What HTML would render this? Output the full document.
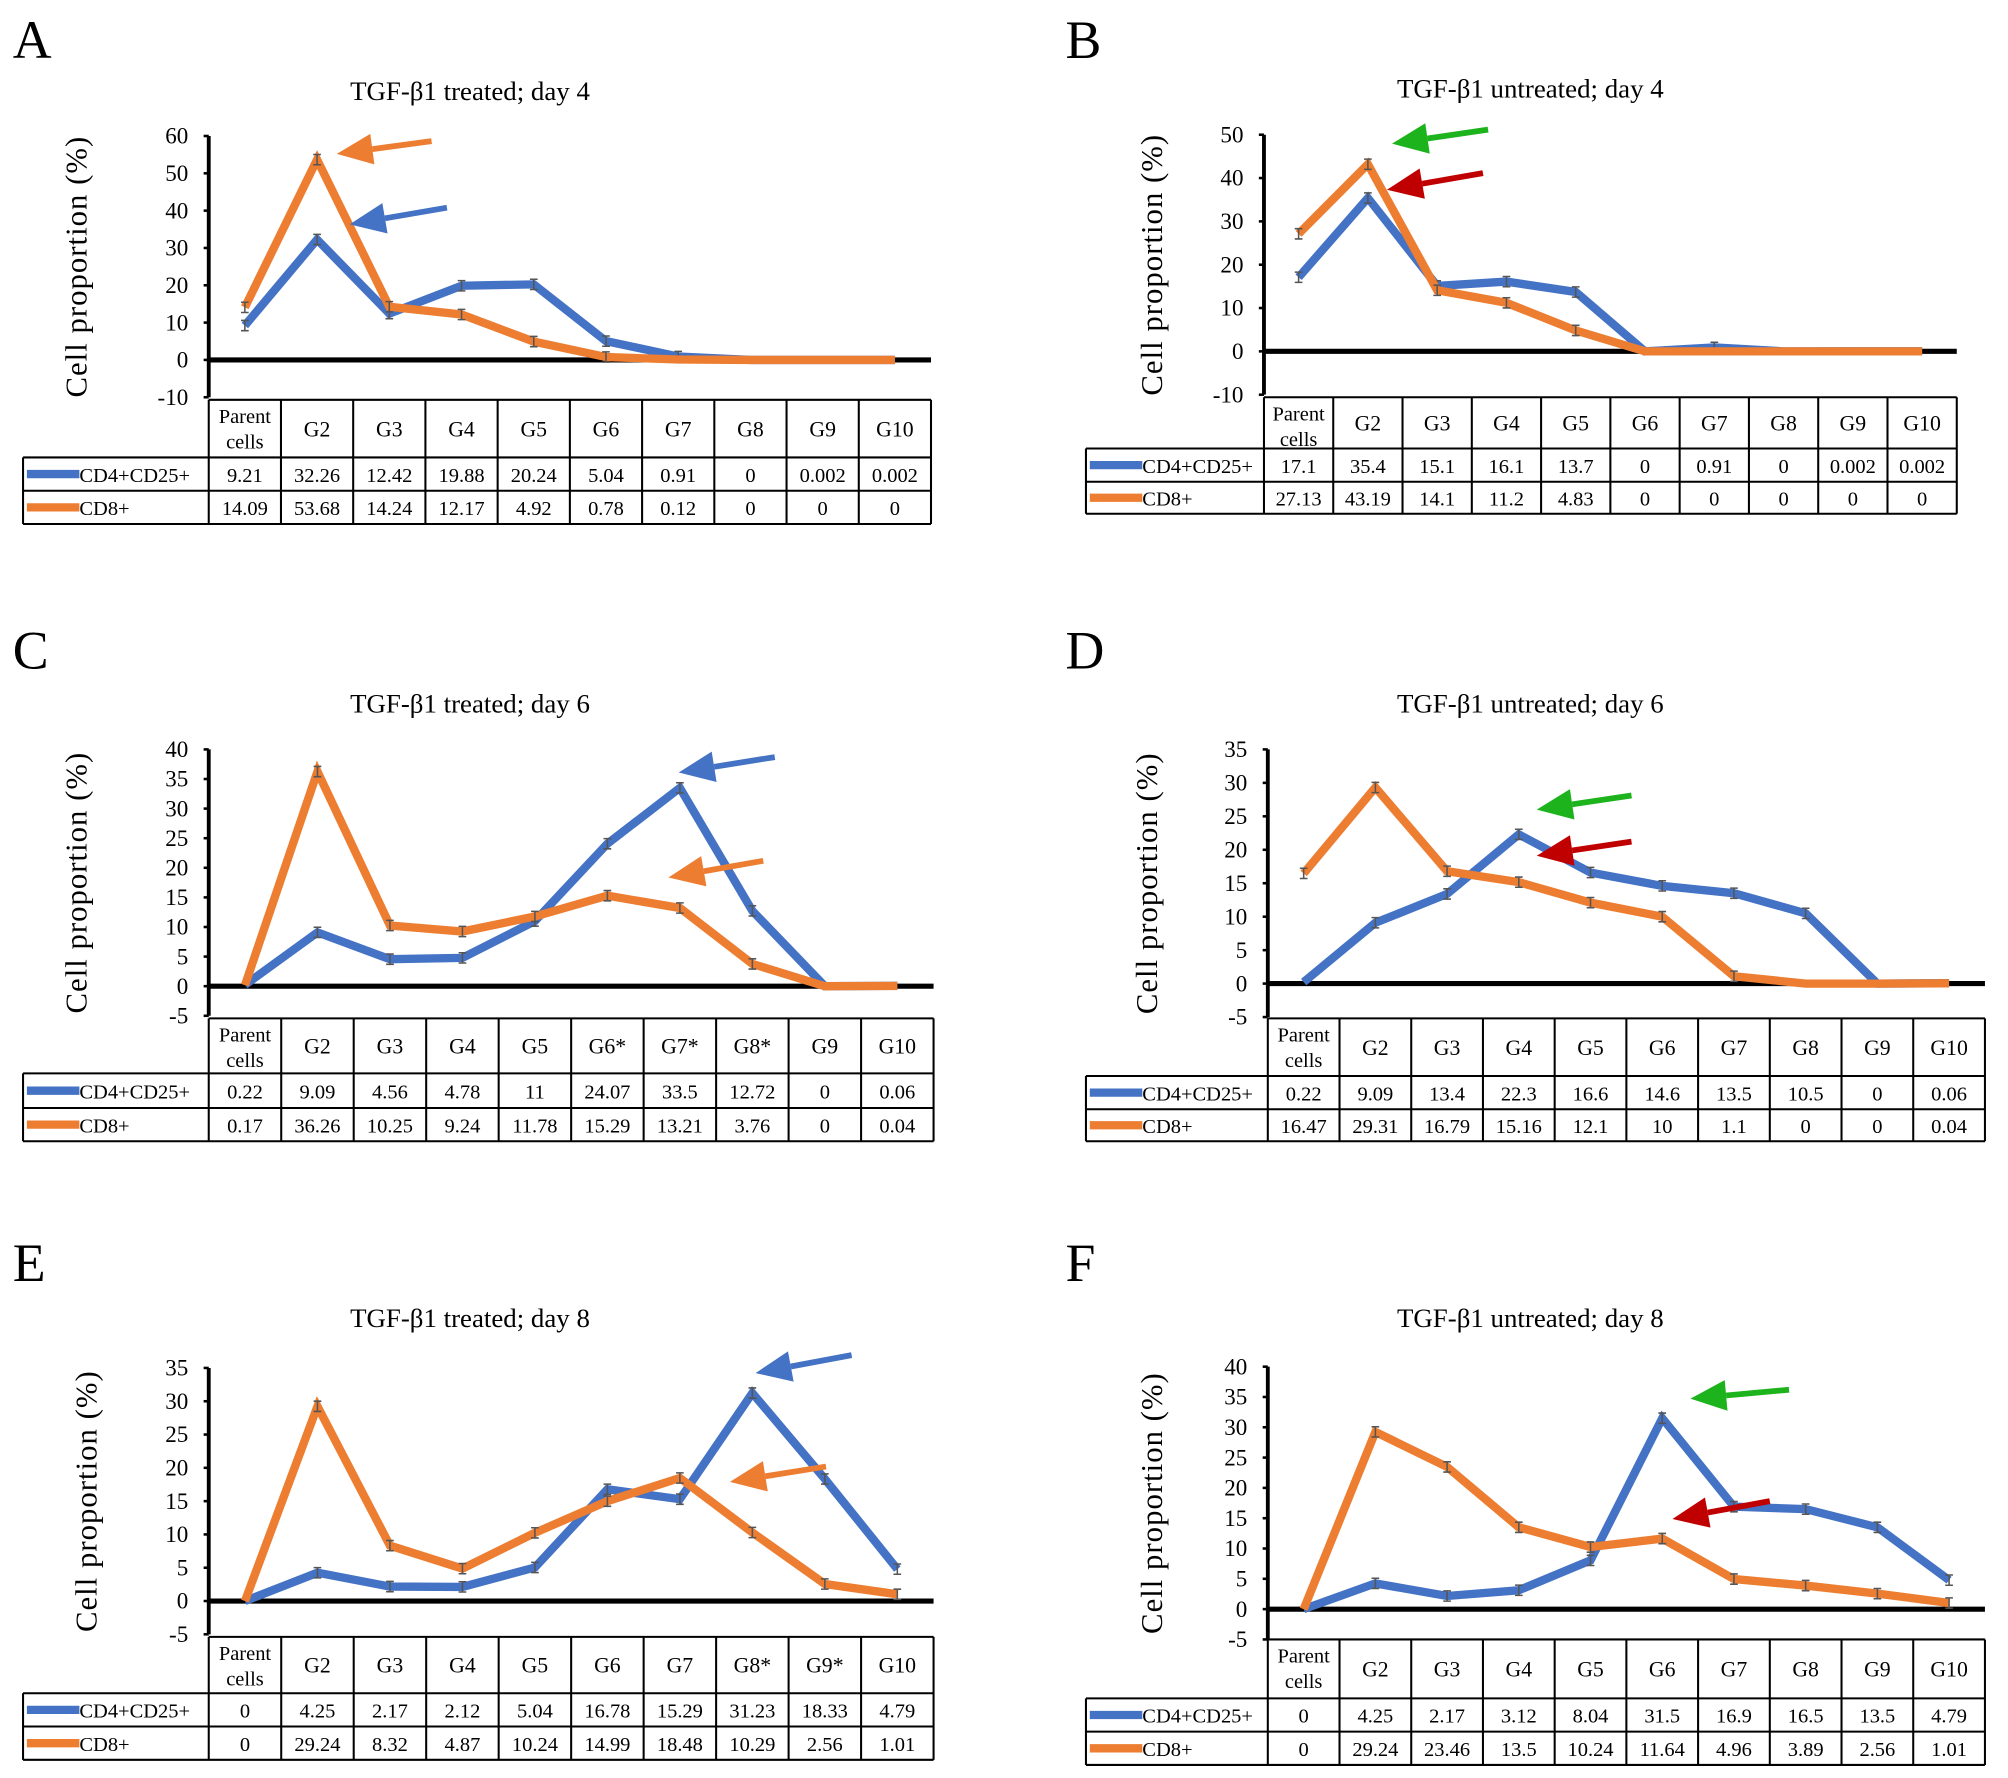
<!DOCTYPE html>
<html><head><meta charset="utf-8">
<style>
html,body{margin:0;padding:0;background:#fff;}
svg{display:block;}
svg text{font-family:"Liberation Serif",serif;}
</style></head>
<body>
<svg id="fig" width="2008" height="1778" viewBox="0 0 1568 1388" xmlns="http://www.w3.org/2000/svg" font-family="Liberation Serif, serif"></svg>
<script>
// ---------- data ----------
const categoriesA = ["Parent cells","G2","G3","G4","G5","G6","G7","G8","G9","G10"];
const cd4A = [9.21,32.26,12.42,19.88,20.24,5.04,0.91,0,0.002,0.002];
const cd8A = [14.09,53.68,14.24,12.17,4.92,0.78,0.12,0,0,0];
const cd4LabelsA = ["9.21","32.26","12.42","19.88","20.24","5.04","0.91","0","0.002","0.002"];
const cd8LabelsA = ["14.09","53.68","14.24","12.17","4.92","0.78","0.12","0","0","0"];
const ticksA = [60,50,40,30,20,10,0,-10];

const categoriesB = ["Parent cells","G2","G3","G4","G5","G6","G7","G8","G9","G10"];
const cd4B = [17.1,35.4,15.1,16.1,13.7,0,0.91,0,0.002,0.002];
const cd8B = [27.13,43.19,14.1,11.2,4.83,0,0,0,0,0];
const cd4LabelsB = ["17.1","35.4","15.1","16.1","13.7","0","0.91","0","0.002","0.002"];
const cd8LabelsB = ["27.13","43.19","14.1","11.2","4.83","0","0","0","0","0"];
const ticksB = [50,40,30,20,10,0,-10];

const categoriesC = ["Parent cells","G2","G3","G4","G5","G6*","G7*","G8*","G9","G10"];
const cd4C = [0.22,9.09,4.56,4.78,11,24.07,33.5,12.72,0,0.06];
const cd8C = [0.17,36.26,10.25,9.24,11.78,15.29,13.21,3.76,0,0.04];
const cd4LabelsC = ["0.22","9.09","4.56","4.78","11","24.07","33.5","12.72","0","0.06"];
const cd8LabelsC = ["0.17","36.26","10.25","9.24","11.78","15.29","13.21","3.76","0","0.04"];
const ticksC = [40,35,30,25,20,15,10,5,0,-5];

const categoriesD = ["Parent cells","G2","G3","G4","G5","G6","G7","G8","G9","G10"];
const cd4D = [0.22,9.09,13.4,22.3,16.6,14.6,13.5,10.5,0,0.06];
const cd8D = [16.47,29.31,16.79,15.16,12.1,10,1.1,0,0,0.04];
const cd4LabelsD = ["0.22","9.09","13.4","22.3","16.6","14.6","13.5","10.5","0","0.06"];
const cd8LabelsD = ["16.47","29.31","16.79","15.16","12.1","10","1.1","0","0","0.04"];
const ticksD = [35,30,25,20,15,10,5,0,-5];

const categoriesE = ["Parent cells","G2","G3","G4","G5","G6","G7","G8*","G9*","G10"];
const cd4E = [0,4.25,2.17,2.12,5.04,16.78,15.29,31.23,18.33,4.79];
const cd8E = [0,29.24,8.32,4.87,10.24,14.99,18.48,10.29,2.56,1.01];
const cd4LabelsE = ["0","4.25","2.17","2.12","5.04","16.78","15.29","31.23","18.33","4.79"];
const cd8LabelsE = ["0","29.24","8.32","4.87","10.24","14.99","18.48","10.29","2.56","1.01"];
const ticksE = [35,30,25,20,15,10,5,0,-5];

const categoriesF = ["Parent cells","G2","G3","G4","G5","G6","G7","G8","G9","G10"];
const cd4F = [0,4.25,2.17,3.12,8.04,31.5,16.9,16.5,13.5,4.79];
const cd8F = [0,29.24,23.46,13.5,10.24,11.64,4.96,3.89,2.56,1.01];
const cd4LabelsF = ["0","4.25","2.17","3.12","8.04","31.5","16.9","16.5","13.5","4.79"];
const cd8LabelsF = ["0","29.24","23.46","13.5","10.24","11.64","4.96","3.89","2.56","1.01"];
const ticksF = [40,35,30,25,20,15,10,5,0,-5];

// ---------- layout ----------
const NS="http://www.w3.org/2000/svg";
const svg=document.getElementById('fig');
const BLUE="#4472C4", ORANGE="#ED7D31", GREEN="#1DB31D", RED="#C00000";
function mk(tag,attrs,parent){const e=document.createElementNS(NS,tag);for(const k in attrs)e.setAttribute(k,attrs[k]);(parent||svg).appendChild(e);return e;}

const panels=[
 {id:"a",letter:"A",lx:10,ly:45,title:"TGF-β1 treated; day 4",tx:367,ty:78,ax:163,x1:727,yTop:106,yBot:310,vTop:60,vBot:-10,legX:18,
  tab:[312,357,383,409],cats:categoriesA,c4:cd4A,c8:cd8A,l4:cd4LabelsA,l8:cd8LabelsA,ticks:ticksA,ytx:62,
  arrows:[[337,110,263,120,ORANGE],[349,162,273,175,BLUE]]},
 {id:"b",letter:"B",lx:832,ly:45,title:"TGF-β1 untreated; day 4",tx:1195,ty:76,ax:987,x1:1528,yTop:105,yBot:308,vTop:50,vBot:-10,legX:848,
  tab:[310,350,376,401],cats:categoriesB,c4:cd4B,c8:cd8B,l4:cd4LabelsB,l8:cd8LabelsB,ticks:ticksB,ytx:902,
  arrows:[[1162,101,1087,112,GREEN],[1158,135,1083,148,RED]]},
 {id:"c",letter:"C",lx:10,ly:522,title:"TGF-β1 treated; day 6",tx:367,ty:556,ax:163,x1:729,yTop:585,yBot:793,vTop:40,vBot:-5,legX:18,
  tab:[795,838,865,891],cats:categoriesC,c4:cd4C,c8:cd8C,l4:cd4LabelsC,l8:cd8LabelsC,ticks:ticksC,ytx:62,
  arrows:[[605,591,530,603,BLUE],[596,672,522,685,ORANGE]]},
 {id:"d",letter:"D",lx:832,ly:522,title:"TGF-β1 untreated; day 6",tx:1195,ty:556,ax:990,x1:1550,yTop:585,yBot:794,vTop:35,vBot:-5,legX:848,
  tab:[795,840,866,891],cats:categoriesD,c4:cd4D,c8:cd8D,l4:cd4LabelsD,l8:cd8LabelsD,ticks:ticksD,ytx:898,
  arrows:[[1274,621,1200,632,GREEN],[1274,657,1200,668,RED]]},
 {id:"e",letter:"E",lx:10,ly:1000,title:"TGF-β1 treated; day 8",tx:367,ty:1036,ax:163,x1:729,yTop:1068,yBot:1276,vTop:35,vBot:-5,legX:18,
  tab:[1278,1322,1348,1374],cats:categoriesE,c4:cd4E,c8:cd8E,l4:cd4LabelsE,l8:cd8LabelsE,ticks:ticksE,ytx:70,
  arrows:[[665,1058,590,1072,BLUE],[645,1145,570,1157,ORANGE]]},
 {id:"f",letter:"F",lx:832,ly:1000,title:"TGF-β1 untreated; day 8",tx:1195,ty:1036,ax:990,x1:1550,yTop:1067,yBot:1280,vTop:40,vBot:-5,legX:848,
  tab:[1280,1326,1352,1378],cats:categoriesF,c4:cd4F,c8:cd8F,l4:cd4LabelsF,l8:cd8LabelsF,ticks:ticksF,ytx:902,
  arrows:[[1397,1085,1320,1092,GREEN],[1382,1172,1306,1186,RED]]}
];

function drawPanel(p){
  const g=mk('g',{});
  
  
  const yS=v=>p.yTop+(p.vTop-v)*(p.yBot-p.yTop)/(p.vTop-p.vBot);
  const n=p.cats.length, cw=(p.x1-p.ax)/n;
  const xS=i=>p.ax+cw*(i+0.5);

  const L=mk('text',{x:p.lx,y:p.ly,'font-size':42},g);L.textContent=p.letter;
  
  
  const T=mk('text',{x:p.tx,y:p.ty,'font-size':21,'text-anchor':'middle'},g);T.textContent=p.title;
  
  
  const yc=(p.yTop+p.yBot)/2;
  const YT=mk('text',{x:p.ytx,y:yc,'font-size':24,'text-anchor':'middle','letter-spacing':'0.8',transform:`rotate(-90 ${p.ytx} ${yc})`,'dominant-baseline':'middle'},g);
  YT.textContent="Cell  proportion  (%)";
  
  

  const ya=mk('line',{x1:p.ax,y1:p.yTop,x2:p.ax,y2:p.yBot,stroke:'#000','stroke-width':3},g);
  
  
  p.ticks.forEach(t=>{
    const y=yS(t);
    mk('line',{x1:p.ax-4,y1:y,x2:p.ax,y2:y,stroke:'#000','stroke-width':2},g);
    const tl=mk('text',{x:p.ax-16,y:y+6,'font-size':18,'text-anchor':'end'},g);tl.textContent=t;
    
    
  });
  const zl=mk('line',{x1:p.ax,y1:yS(0),x2:p.x1,y2:yS(0),stroke:'#000','stroke-width':4},g);
  
  

  [[p.c4,BLUE,'cd4-cd25-line'],[p.c8,ORANGE,'cd8-line']].forEach(([vals,col,nm])=>{
    const pts=vals.map((v,i)=>xS(i)+','+yS(v)).join(' ');
    const pl=mk('polyline',{points:pts,fill:'none',stroke:col,'stroke-width':6.5,'stroke-linejoin':'miter'},g);
    
    
    vals.forEach((v,i)=>{
      if(v<=0.5) return;
      const y=yS(v), e=4;
      const eb=mk('path',{d:`M${xS(i)} ${y-e}V${y+e}M${xS(i)-3} ${y-e}h6M${xS(i)-3} ${y+e}h6`,stroke:'#555','stroke-width':1.2,fill:'none'},g);
      
      
    });
  });

  const [t0,t1,t2,t3]=p.tab;
  const tg=mk('g',{stroke:'#000','stroke-width':1.6,fill:'none'},g);
  
  
  mk('line',{x1:p.ax,y1:t0,x2:p.x1,y2:t0},tg);
  mk('line',{x1:p.legX,y1:t1,x2:p.x1,y2:t1},tg);
  mk('line',{x1:p.legX,y1:t2,x2:p.x1,y2:t2},tg);
  mk('line',{x1:p.legX,y1:t3,x2:p.x1,y2:t3},tg);
  mk('line',{x1:p.legX,y1:t1,x2:p.legX,y2:t3},tg);
  for(let i=0;i<=n;i++){const x=p.ax+cw*i;mk('line',{x1:x,y1:t0,x2:x,y2:t3},tg);}
  p.cats.forEach((c,i)=>{
    if(c==="Parent cells"){
      const a=mk('text',{x:xS(i),y:t0+18,'font-size':16,'text-anchor':'middle'},g);a.textContent="Parent";
      
      
      const b=mk('text',{x:xS(i),y:t0+38,'font-size':16,'text-anchor':'middle'},g);b.textContent="cells";
      
      
    } else {
      const a=mk('text',{x:xS(i),y:(t0+t1)/2+6,'font-size':17,'text-anchor':'middle'},g);a.textContent=c;
      
      
    }
    const v4=mk('text',{x:xS(i),y:(t1+t2)/2+6,'font-size':16,'text-anchor':'middle'},g);v4.textContent=p.l4[i];
    
    
    const v8=mk('text',{x:xS(i),y:(t2+t3)/2+6,'font-size':16,'text-anchor':'middle'},g);v8.textContent=p.l8[i];
    
    
  });
  [[t1,t2,BLUE,"CD4+CD25+"],[t2,t3,ORANGE,"CD8+"]].forEach(([a,b,col,lab])=>{
    const ym=(a+b)/2;
    const le=mk('g',{},g);
    
    
    mk('line',{x1:p.legX+3,y1:ym,x2:p.legX+44,y2:ym,stroke:col,'stroke-width':6.5},le);
    const tx=mk('text',{x:p.legX+44,y:ym+6,'font-size':16},le);tx.textContent=lab;
  });

  p.arrows.forEach(([xa,ya2,xb,yb,col])=>{
    const ag=mk('g',{},g);
    
    
    const dx=xb-xa,dy=yb-ya2,len=Math.hypot(dx,dy),ux=dx/len,uy=dy/len;
    const hl=28,hw=12;
    const bx=xb-ux*hl,by=yb-uy*hl;
    mk('line',{x1:xa,y1:ya2,x2:bx,y2:by,stroke:col,'stroke-width':4.5},ag);
    mk('polygon',{points:`${xb},${yb} ${bx-uy*hw},${by+ux*hw} ${bx+uy*hw},${by-ux*hw}`,fill:col},ag);
  });
}
panels.forEach(drawPanel);
</script>
</body></html>
